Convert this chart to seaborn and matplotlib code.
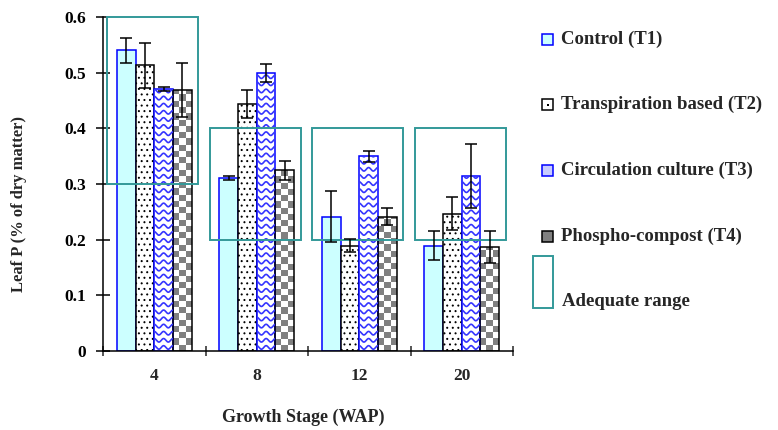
import numpy as np
import pandas as pd
import matplotlib
matplotlib.use("Agg")
import matplotlib.pyplot as plt
import seaborn as sns
from matplotlib.patches import Rectangle
from matplotlib.lines import Line2D
from matplotlib.colors import ListedColormap

# ---------------- data ----------------
stages = ["4", "8", "12", "20"]
treatments = ["Control (T1)", "Transpiration based (T2)",
              "Circulation culture (T3)", "Phospho-compost (T4)"]
t1 = [0.540, 0.311, 0.241, 0.189]
t1_err = [0.023, 0.004, 0.046, 0.026]
t2 = [0.513, 0.443, 0.189, 0.247]
t2_err = [0.041, 0.025, 0.012, 0.029]
t3 = [0.471, 0.499, 0.350, 0.314]
t3_err = [0.004, 0.016, 0.010, 0.057]
t4 = [0.469, 0.325, 0.241, 0.187]
t4_err = [0.048, 0.017, 0.015, 0.029]
adequate_low = [0.3, 0.2, 0.2, 0.2]
adequate_high = [0.6, 0.4, 0.4, 0.4]
ytick_labels = ["0", "0.1", "0.2", "0.3", "0.4", "0.5", "0.6"]
legend_extra = "Adequate range"
xlabel = "Growth Stage (WAP)"
ylabel = "Leaf P (% of dry matter)"

values = [t1, t2, t3, t4]
errors = [t1_err, t2_err, t3_err, t4_err]

df = pd.DataFrame({
    "stage": [s for v in values for s in stages],
    "treatment": [t for t, v in zip(treatments, values) for _ in v],
    "value": [x for v in values for x in v],
})

# ---------------- style ----------------
sns.set_style("ticks")
FONT = ["Liberation Serif", "DejaVu Serif"]
plt.rcParams["font.family"] = FONT
plt.rcParams["font.weight"] = "bold"
plt.rcParams["hatch.linewidth"] = 0.7

TEAL = "#339999"
BLUE = "#0000FF"
W, H = 778, 430

fig = plt.figure(figsize=(W / 100, H / 100), dpi=100)
ax = fig.add_axes([103 / W, 1 - 351 / H, 410 / W, 334 / H])

sns.barplot(data=df, x="stage", y="value", hue="treatment", order=stages,
            hue_order=treatments, width=0.73, errorbar=None, saturation=1,
            legend=False, ax=ax)

styles = [
    dict(facecolor="#CCFFFF", edgecolor=BLUE, hatch=None),
    dict(facecolor="white", edgecolor="black", hatch="..."),
    dict(facecolor="white", edgecolor=BLUE, hatch=None),
    dict(facecolor="none", edgecolor="black", hatch=None),
]

checker_cmap = ListedColormap(["white", "#808080"])

for ci, (cont, st) in enumerate(zip(ax.containers, styles)):
    xs, ys = [], []
    for bar in cont:
        bar.set_facecolor(st["facecolor"])
        bar.set_edgecolor(st["edgecolor"])
        bar.set_linewidth(1.1)
        bar.set_zorder(2)
        if st["hatch"]:
            bar.set_hatch(st["hatch"])
        x0, w, h = bar.get_x(), bar.get_width(), bar.get_height()
        xs.append(x0 + w / 2)
        ys.append(h)
        if ci == 3:
            # checkerboard fill
            ncols = 3
            cell_h = 0.0112
            nrows = int(np.ceil(h / cell_h))
            arr = np.add.outer(np.arange(nrows), np.arange(ncols)) % 2
            im = ax.imshow(arr, cmap=checker_cmap, extent=(x0, x0 + w, 0, nrows * cell_h),
                           origin="lower", aspect="auto", interpolation="nearest", zorder=1.5)
            im.set_clip_path(bar)
        if ci == 2:
            # blue wave fill
            dy = 0.0128
            amp = 0.0032
            xx = np.linspace(x0 - w * 0.05, x0 + w * 1.05, 60)
            lx, ly = [], []
            k = 0
            while (k - 0.5) * dy < h + dy:
                yy = (k + 0.5) * dy + amp * np.cos(2 * np.pi * (xx - x0) / (w / 2.0))
                lx.extend(list(xx) + [np.nan])
                ly.extend(list(yy) + [np.nan])
                k += 1
            ln = Line2D(lx, ly, color="#3535FF", lw=1.2, zorder=2.5)
            ax.add_line(ln)
            ln.set_clip_path(bar)
    ax.errorbar(xs, ys, yerr=errors[ci], fmt="none", ecolor="black",
                elinewidth=1.1, capsize=4.3, capthick=1.1, zorder=6)

# adequate range boxes
for i, (lo, hi) in enumerate(zip(adequate_low, adequate_high)):
    ax.add_patch(Rectangle((i - 0.46, lo), 0.89, hi - lo, fill=False,
                           edgecolor=TEAL, linewidth=1.4, zorder=5, clip_on=False))

# axes
ax.set_xlim(-0.5, len(stages) - 0.5)
ax.set_ylim(0, 0.6)
ax.set_yticks([float(s) for s in ytick_labels])
ax.set_yticklabels(ytick_labels)
ax.set_xticks(np.arange(len(stages) + 1) - 0.5)
ax.set_xticklabels([])
ax.set_xticks(np.arange(len(stages)), minor=True)
ax.set_xticklabels(stages, minor=True)
ax.tick_params(axis="y", which="major", direction="inout", length=9.5, width=1.1,
               pad=7.5, labelsize=12.5, colors="black")
ax.tick_params(axis="x", which="major", direction="inout", length=7, width=1.1)
ax.tick_params(axis="x", which="minor", length=0, pad=12.5, labelsize=12.5)
for lab in ax.get_yticklabels() + ax.get_xticklabels(minor=True):
    lab.set_fontweight("bold")
for s in ["top", "right"]:
    ax.spines[s].set_visible(False)
for s in ["left", "bottom"]:
    ax.spines[s].set_linewidth(1.1)
    ax.spines[s].set_color("black")

ax.set_xlabel(xlabel, fontsize=13, fontweight="bold")
ax.set_ylabel(ylabel, fontsize=12, fontweight="bold")
ax.xaxis.set_label_coords((303.5 - 103) / 410, (351 - 417) / 334)
ax.xaxis.label.set_va("center")
ax.yaxis.set_label_coords((19 - 103) / 410, (351 - 204) / 334)
ax.yaxis.label.set_va("center")

# legend (drawn manually to match layout)
handle_styles = [
    dict(facecolor="#CCFFFF", edgecolor=BLUE, hatch=None),
    dict(facecolor="white", edgecolor="black", hatch=None),
    dict(facecolor="#C8CCFF", edgecolor=BLUE, hatch=None),
    dict(facecolor="#808080", edgecolor="black", hatch=None),
]
for i, (lab, hs) in enumerate(zip(treatments, handle_styles)):
    yc = 39 + i * 65.7
    r = Rectangle((542 / W, 1 - (yc + 5.5) / H), 11 / W, 11 / H, transform=fig.transFigure,
                  facecolor=hs["facecolor"], edgecolor=hs["edgecolor"], linewidth=1.1)
    fig.add_artist(r)
    if i == 1:
        fig.add_artist(Rectangle((546.5 / W, 1 - (yc + 1) / H), 2 / W, 2 / H,
                                 transform=fig.transFigure, facecolor="black",
                                 edgecolor="none"))
    fig.text(561 / W, 1 - yc / H, lab, ha="left", va="center", fontsize=13.5,
             fontweight="bold")
fig.add_artist(Rectangle((533 / W, 1 - 308 / H), 20 / W, 52 / H, transform=fig.transFigure,
                         fill=False, edgecolor=TEAL, linewidth=1.4))
fig.text(562 / W, 1 - 301 / H, legend_extra, ha="left", va="center", fontsize=13.5,
         fontweight="bold")

fig.savefig("out.png", dpi=100)
